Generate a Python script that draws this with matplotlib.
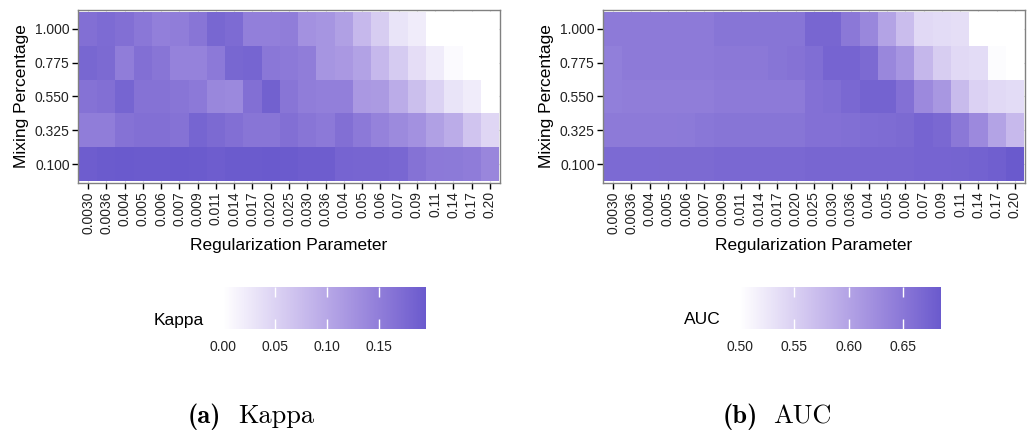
import numpy as np
import matplotlib
matplotlib.use("Agg")
import matplotlib.pyplot as plt
from matplotlib.colors import ListedColormap

plt.rcParams['font.family'] = ['Liberation Sans', 'DejaVu Sans']

reg_labels = ["0.0030", "0.0036", "0.004", "0.005", "0.006", "0.007", "0.009",
              "0.011", "0.014", "0.017", "0.020", "0.025", "0.030", "0.036",
              "0.04", "0.05", "0.06", "0.07", "0.09", "0.11", "0.14", "0.17", "0.20"]
mix_labels = ["0.100", "0.325", "0.550", "0.775", "1.000"]

# rows: mixing 0.100 -> 1.000
kappa = [
    [0.191, 0.193, 0.195, 0.193, 0.193, 0.195, 0.193, 0.191, 0.193, 0.193, 0.195, 0.193,
     0.191, 0.191, 0.182, 0.180, 0.180, 0.178, 0.164, 0.156, 0.155, 0.152, 0.140],
    [0.151, 0.151, 0.164, 0.168, 0.168, 0.164, 0.181, 0.175, 0.168, 0.160, 0.160, 0.168,
     0.160, 0.156, 0.168, 0.156, 0.144, 0.135, 0.126, 0.109, 0.095, 0.067, 0.046],
    [0.164, 0.168, 0.181, 0.164, 0.164, 0.160, 0.156, 0.139, 0.137, 0.168, 0.186, 0.160,
     0.151, 0.148, 0.148, 0.118, 0.116, 0.095, 0.073, 0.051, 0.031, 0.022, 0.000],
    [0.179, 0.175, 0.151, 0.168, 0.160, 0.144, 0.144, 0.156, 0.179, 0.181, 0.158, 0.156,
     0.151, 0.122, 0.118, 0.106, 0.080, 0.059, 0.038, 0.022, 0.006, 0.000, 0.000],
    [0.168, 0.173, 0.168, 0.158, 0.148, 0.151, 0.160, 0.179, 0.173, 0.148, 0.148, 0.151,
     0.126, 0.122, 0.109, 0.080, 0.057, 0.031, 0.022, 0.000, 0.000, 0.000, 0.000],
]
auc = [
    [0.665, 0.665, 0.665, 0.666, 0.666, 0.666, 0.667, 0.667, 0.667, 0.668, 0.668, 0.670,
     0.670, 0.670, 0.670, 0.670, 0.670, 0.672, 0.672, 0.673, 0.675, 0.678, 0.685],
    [0.646, 0.646, 0.646, 0.646, 0.647, 0.651, 0.653, 0.653, 0.653, 0.653, 0.653, 0.658,
     0.658, 0.660, 0.662, 0.664, 0.666, 0.672, 0.668, 0.649, 0.629, 0.600, 0.575],
    [0.641, 0.643, 0.643, 0.643, 0.643, 0.643, 0.646, 0.646, 0.646, 0.646, 0.646, 0.658,
     0.661, 0.668, 0.674, 0.674, 0.658, 0.629, 0.614, 0.573, 0.549, 0.541, 0.537],
    [0.641, 0.646, 0.646, 0.646, 0.646, 0.646, 0.649, 0.649, 0.649, 0.653, 0.656, 0.661,
     0.672, 0.672, 0.666, 0.632, 0.616, 0.578, 0.554, 0.541, 0.537, 0.504, 0.500],
    [0.646, 0.646, 0.646, 0.646, 0.646, 0.646, 0.653, 0.653, 0.653, 0.653, 0.653, 0.670,
     0.670, 0.649, 0.632, 0.600, 0.571, 0.541, 0.537, 0.535, 0.500, 0.500, 0.500],
]


# white -> slateblue, interpolated in CIELAB like ggplot's gradient
M = np.array([[0.4124, 0.3576, 0.1805], [0.2126, 0.7152, 0.0722], [0.0193, 0.1192, 0.9505]])
WP = np.array([0.95047, 1.0, 1.08883])


def to_lab(rgb):
    c = np.where(rgb <= 0.04045, rgb / 12.92, ((rgb + 0.055) / 1.055) ** 2.4)
    xyz = M @ c / WP
    f = np.where(xyz > 0.008856, np.cbrt(xyz), 7.787 * xyz + 16 / 116)
    return np.array([116 * f[1] - 16, 500 * (f[0] - f[1]), 200 * (f[1] - f[2])])


def from_lab(lab):
    fy = (lab[0] + 16) / 116
    f = np.array([fy + lab[1] / 500, fy, fy - lab[2] / 200])
    xyz = np.where(f > 0.2069, f ** 3, (f - 16 / 116) / 7.787) * WP
    c = np.clip(np.linalg.inv(M) @ xyz, 0, 1)
    return np.where(c <= 0.0031308, 12.92 * c, 1.055 * c ** (1 / 2.4) - 0.055)


lo = to_lab(np.array([1.0, 1.0, 1.0]))
hi = to_lab(np.array([106, 90, 205]) / 255)
cmap = ListedColormap([np.clip(from_lab(lo + (hi - lo) * t), 0, 1) for t in np.linspace(0, 1, 256)])

W, H = 1029, 430
fig = plt.figure(figsize=(W / 100, H / 100), dpi=100)


def px(x, y, w, h):
    return [x / W, 1 - (y + h) / H, w / W, h / H]


def panel(x0, data, vmin, vmax, cx, cw, title, ticks, ticklabels):
    ax = fig.add_axes(px(x0, 10, 422, 173))
    mesh = ax.pcolormesh(np.arange(len(reg_labels) + 1) - 0.5, np.arange(len(mix_labels) + 1) - 0.5,
                         np.array(data), cmap=cmap, vmin=vmin, vmax=vmax, zorder=2)
    ax.set_xlim(-0.55, len(reg_labels) - 0.45)
    ax.set_ylim(-0.56, len(mix_labels) - 0.44)
    ax.set_xticks(range(len(reg_labels)))
    ax.set_xticklabels(reg_labels, rotation=90, fontsize=10, color='#222222')
    ax.set_yticks(range(len(mix_labels)))
    ax.set_yticklabels(mix_labels, fontsize=10, color='#222222')
    ax.grid(True, color='#e3e3e3', lw=0.8, zorder=0)
    ax.set_axisbelow(True)
    ax.tick_params(length=4, width=1, color='black', pad=2)
    for s in ax.spines.values():
        s.set_color('#808080')
        s.set_linewidth(1.0)
    ax.set_xlabel("Regularization Parameter", fontsize=12.5, labelpad=3)
    ax.set_ylabel("Mixing Percentage", fontsize=12.5, labelpad=4)

    cax = fig.add_axes(px(cx, 287, cw, 42))
    cb = fig.colorbar(mesh, cax=cax, orientation='horizontal')
    cb.outline.set_visible(False)
    cb.set_ticks(ticks)
    cb.set_ticklabels(ticklabels)
    cax.minorticks_off()
    cax.tick_params(which='both', direction='in', length=7, width=1, color='white',
                    top=True, bottom=True, labelsize=10, pad=8, labelcolor='#222222')
    fig.text((cx - 19) / W, 1 - 320 / H, title, ha='right', va='center', fontsize=12.5)


panel(78, kappa, 0.0, 0.195, 223, 203, "Kappa",
      [0.0, 0.05, 0.10, 0.15], ["0.00", "0.05", "0.10", "0.15"])
panel(603, auc, 0.5, 0.685, 740, 201, "AUC",
      [0.50, 0.55, 0.60, 0.65], ["0.50", "0.55", "0.60", "0.65"])

# sub-captions in Computer Modern
base = 1 - 423 / H
fig.text(188 / W, base, "(a)", family='cmb10', fontsize=19, va='baseline')
fig.text(238 / W, base, "Kappa", family='cmr10', fontsize=19, va='baseline')
fig.text(723 / W, base, "(b)", family='cmb10', fontsize=19, va='baseline')
fig.text(773 / W, base, "AUC", family='cmr10', fontsize=19, va='baseline')

fig.savefig("out.png", dpi=100)
